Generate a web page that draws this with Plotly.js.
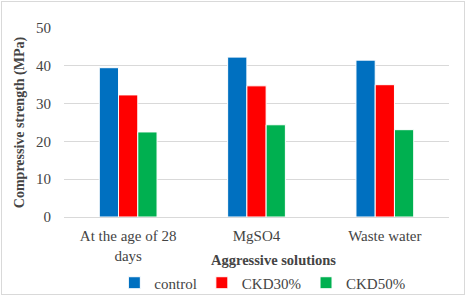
<!DOCTYPE html>
<html><head><meta charset="utf-8">
<script src="https://cdn.plot.ly/plotly-3.0.1.min.js"></script>
</head>
<body style="margin:0;background:#fff">
<div style="position:absolute;left:0;top:0;z-index:0">
<div style="font-family:'Liberation Serif';font-size:15px">Liberation Serif Aggressive 123</div>
<div style="font-family:'Liberation Serif';font-size:15px;font-weight:bold">Liberation Serif Bold 123</div>
<div style="font-family:'Times New Roman';font-size:15px">Times New Roman Aggressive 123</div>
</div>
<div id="chart" style="position:absolute;left:0;top:0;width:466px;height:296px;z-index:1"></div>
<div style="position:absolute;left:1px;top:1px;width:462px;height:292px;border:1px solid #d9d9d9;pointer-events:none;z-index:2"></div>
<script>
const categories = ["At the age of 28<br>days", "MgSO4", "Waste water"];
const control = [39.5, 42.3, 41.5];
const ckd30 = [32.3, 34.7, 35.0];
const ckd50 = [22.5, 24.4, 23.1];
const seriesNames = ["control", "CKD30%", "CKD50%"];
const colors = ["#0070c0", "#ff0000", "#00b050"];
const xTitle = "Aggressive solutions";
const yTitle = "Compressive strength (MPa)";
const vals = [control, ckd30, ckd50];
const traces = vals.map((v, i) => ({
  type: "bar", x: categories, y: v, name: seriesNames[i],
  marker: {color: colors[i], line: {color: "#ffffff", width: 1}}
}));
Plotly.newPlot("chart", traces, {
  width: 466, height: 296,
  margin: {l: 64, r: 17, t: 28, b: 79, autoexpand: false},
  plot_bgcolor: "#ffffff", paper_bgcolor: "#ffffff",
  barmode: "group", bargap: 0.55, bargroupgap: 0,
  showlegend: true,
  legend: {orientation: "h", x: 0.563, xanchor: "center", xref: "container",
    y: 0.044, yanchor: "middle", yref: "container",
    font: {family: "Times New Roman", size: 15}, itemwidth: 30, tracegroupgap: 0},
  annotations: [{text: "<b>" + xTitle + "</b>", xref: "paper", yref: "paper",
    x: 0.543, y: -0.2275, xanchor: "center", yanchor: "middle", showarrow: false,
    font: {family: "Times New Roman", size: 14.5}}],
  xaxis: {showgrid: false, showline: false, ticks: "", automargin: false,
    tickfont: {family: "Times New Roman", size: 15}, ticklabelstandoff: 8},
  yaxis: {range: [0, 50], dtick: 10, showgrid: true, gridcolor: "#d9d9d9", gridwidth: 1,
    zeroline: true, zerolinecolor: "#d9d9d9", zerolinewidth: 1, showline: false, ticks: "",
    ticklabelstandoff: 12, automargin: false,
    tickfont: {family: "Times New Roman", size: 15},
    title: {text: "<b>" + yTitle + "</b>", font: {family: "Times New Roman", size: 14}, standoff: 8}}
}, {staticPlot: true});
</script></body></html>
